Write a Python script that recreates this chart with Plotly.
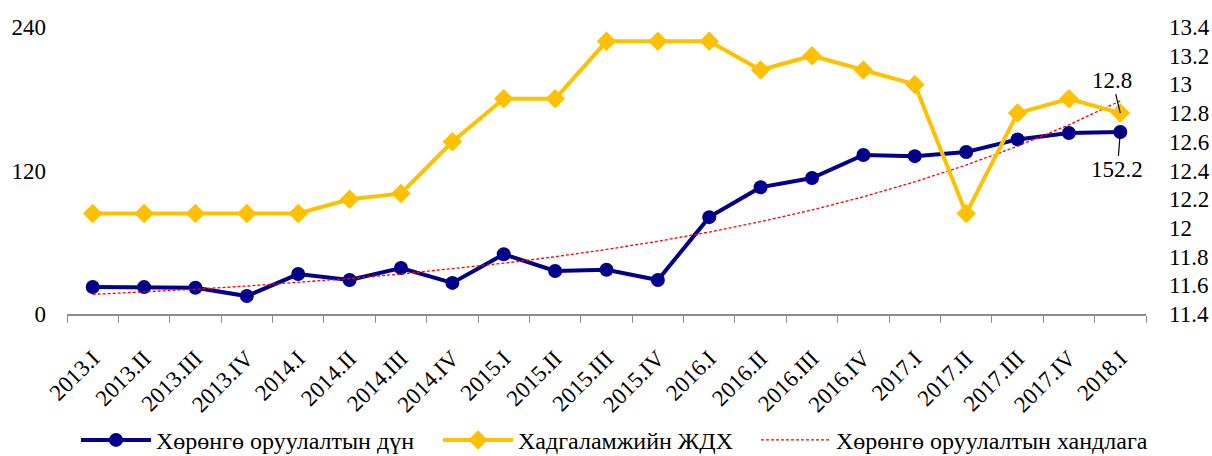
import numpy as np
import plotly.graph_objects as go

# Quarterly periods
quarters = [
    "2013.I", "2013.II", "2013.III", "2013.IV",
    "2014.I", "2014.II", "2014.III", "2014.IV",
    "2015.I", "2015.II", "2015.III", "2015.IV",
    "2016.I", "2016.II", "2016.III", "2016.IV",
    "2017.I", "2017.II", "2017.III", "2017.IV",
    "2018.I",
]

# Total investment (left axis)
investment = [
    22.6, 22.5, 22.0, 15.0,
    33.4, 28.4, 38.5, 26.0,
    50.0, 36.0, 37.0, 28.4,
    81.0, 106.0, 113.7, 133.0,
    132.0, 135.5, 146.0, 151.4,
    152.2,
]

# Deposit interest rate, % (right axis)
deposit_rate = [
    12.1, 12.1, 12.1, 12.1,
    12.1, 12.2, 12.24, 12.6,
    12.9, 12.9, 13.3, 13.3,
    13.3, 13.1, 13.2, 13.1,
    13.0, 12.1, 12.8, 12.9,
    12.8,
]

left_ticks = [0, 120, 240]
right_ticks = [11.4, 11.6, 11.8, 12.0, 12.2, 12.4, 12.6, 12.8, 13.0, 13.2, 13.4]
right_ticktext = ["11.4", "11.6", "11.8", "12", "12.2", "12.4", "12.6", "12.8", "13", "13.2", "13.4"]

# Exponential trend of investment (least squares on log values)
idx = np.arange(len(investment))
slope, intercept = np.polyfit(idx, np.log(investment), 1)
trend = np.exp(intercept + slope * idx)

FONT = "'Liberation Serif', 'Times New Roman', serif"
NAVY = "#00008B"
GOLD = "#FFC000"
FS = 23
LEG_FS = 24

fig = go.Figure()

fig.add_trace(go.Scatter(
    x=quarters, y=investment, name="Хөрөнгө оруулалтын дүн",
    mode="lines+markers",
    line=dict(color=NAVY, width=4),
    marker=dict(symbol="circle", size=14, color=NAVY),
    yaxis="y", legend="legend",
))

fig.add_trace(go.Scatter(
    x=quarters, y=deposit_rate, name="Хадгаламжийн ЖДХ",
    mode="lines+markers",
    line=dict(color=GOLD, width=4),
    marker=dict(symbol="diamond", size=15, color=GOLD),
    yaxis="y2", legend="legend2",
))

fig.add_trace(go.Scatter(
    x=quarters, y=trend, name="Хөрөнгө оруулалтын хандлага",
    mode="lines",
    line=dict(color="#FF0000", width=1.3, dash="3px,2px"),
    yaxis="y", legend="legend3",
))

# Value labels for the last period
fig.add_annotation(
    x=quarters[-1], y=deposit_rate[-1], yref="y2", xref="x",
    text=f"{deposit_rate[-1]:g}", showarrow=True, arrowhead=0,
    arrowwidth=1.2, arrowcolor="black", ax=-8, ay=-33,
    font=dict(family=FONT, size=FS, color="black"),
)
fig.add_annotation(
    x=quarters[-1], y=investment[-1], yref="y", xref="x",
    text=f"{investment[-1]:g}", showarrow=True, arrowhead=0,
    arrowwidth=1.2, arrowcolor="black", ax=-3, ay=38,
    font=dict(family=FONT, size=FS, color="black"),
)

L_PX, R_PX = 67, 1146


def px_to_paper(px):
    return (px - L_PX) / (R_PX - L_PX)


def legend_at(px):
    return dict(
        orientation="h", x=px_to_paper(px), xanchor="left",
        y=-0.44, yanchor="middle", bgcolor="rgba(0,0,0,0)",
        font=dict(family=FONT, size=LEG_FS, color="black"),
        itemwidth=70,
    )


fig.update_layout(
    width=1212, height=456,
    margin=dict(l=L_PX, r=1212 - R_PX, t=27, b=142, autoexpand=False),
    paper_bgcolor="white", plot_bgcolor="white",
    font=dict(family=FONT, size=FS, color="black"),
    showlegend=True,
    legend=legend_at(76),
    legend2=legend_at(438),
    legend3=legend_at(756),
    xaxis=dict(
        type="category", range=[-0.5, len(quarters) - 0.5],
        showgrid=False, zeroline=False, automargin=False,
        showline=True, linecolor="#8C8C8C", linewidth=1.5,
        ticks="outside", tickson="boundaries", ticklen=7, tickcolor="#8C8C8C",
        tickangle=-45, ticklabelstandoff=20, tickfont=dict(family=FONT, size=FS),
    ),
    yaxis=dict(
        range=[0, 240], tickvals=left_ticks, showgrid=False, zeroline=False,
        showline=False, ticks="", ticklabelstandoff=20, automargin=False,
        tickfont=dict(family=FONT, size=FS),
    ),
    yaxis2=dict(
        range=[11.4, 13.4], tickvals=right_ticks, ticktext=right_ticktext,
        overlaying="y", side="right", showgrid=False, zeroline=False,
        showline=False, ticks="", ticklabelstandoff=22, automargin=False,
        tickfont=dict(family=FONT, size=FS),
    ),
)

fig.write_html("out.html")
